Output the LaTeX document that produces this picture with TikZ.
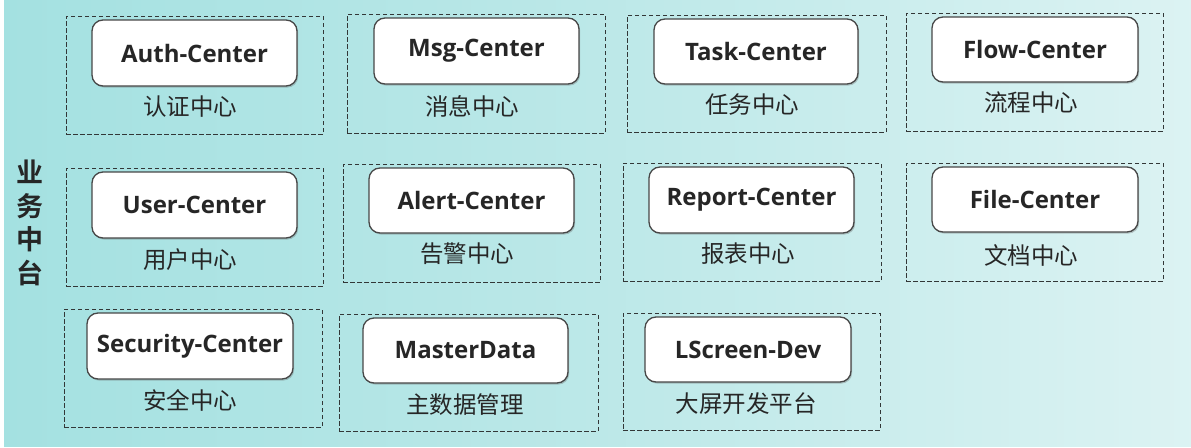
\documentclass[tikz,border=0pt]{standalone}
\usepackage{fontspec}
\usetikzlibrary{shadows}
\newfontfamily\cjk{Noto Sans CJK SC}
\newfontfamily\cjkb{Noto Sans CJK SC Bold}
\newfontfamily\enb{Open Sans Bold}
\definecolor{tealA}{RGB}{140,218,218}
\definecolor{tealB}{RGB}{188,232,232}
\definecolor{tealC}{RGB}{226,245,245}
\definecolor{txt}{RGB}{38,38,38}
\definecolor{dashc}{RGB}{50,55,55}
\pgfdeclarehorizontalshading{bgshade}{100bp}{color(0bp)=(tealA); color(50bp)=(tealB); color(80bp)=(tealC); color(97bp)=(white); color(100bp)=(white)}
\tikzset{
  grp/.style={draw=dashc, line width=1pt, dash pattern=on 4.5pt off 2.5pt, inner sep=0pt},
  svc/.style={draw=txt!85, line width=1.3pt, fill=white, rounded corners=11pt, inner sep=0pt,
    drop shadow={shadow xshift=1.2pt, shadow yshift=-1.6pt, opacity=0.35, fill=black!60},
    font=\enb\fontsize{24}{28}\selectfont, text=txt},
  lbl/.style={font=\cjk\fontsize{23.5}{26}\selectfont, text=txt, inner sep=0pt},
}
\newcommand{\mkgrp}[5]{\node[grp, minimum width={(#4-#2)*1pt}, minimum height={(#5-#3)*1pt}] (#1) at ({(#2+#4)/2},{(#3+#5)/2}) {};}
\newcommand{\mksvc}[6]{\node[svc, minimum width={(#4-#2)*1pt}, minimum height={(#5-#3)*1pt}] (#1) at ({(#2+#4)/2},{(#3+#5)/2}) {#6};}
\begin{document}
\begin{tikzpicture}[x=1pt,y=-1pt]
\useasboundingbox (0,0) rectangle (1191,447);
\shade[shading=bgshade] (4,0) rectangle (1191,446);
% Row 1
\mkgrp{gAuth}{66}{16}{323}{134}
\mksvc{Auth}{92}{20}{297}{86}{Auth-Center}
\node[lbl] (lAuth) at (190,107) {认证中心};
\mkgrp{gMsg}{347}{14}{605}{133}
\mksvc{Msg}{374}{18}{579}{84}{Msg-Center}
\node[lbl] (lMsg) at (472,106) {消息中心};
\mkgrp{gTask}{627}{15}{886}{132}
\mksvc{Task}{654}{19}{858}{84}{Task-Center}
\node[lbl] (lTask) at (752,105) {任务中心};
\mkgrp{gFlow}{906}{13}{1163}{131}
\mksvc{Flow}{932}{17}{1138}{82}{Flow-Center}
\node[lbl] (lFlow) at (1031,103) {流程中心};
% Row 2
\mkgrp{gUser}{66}{168}{323}{286}
\mksvc{User}{92}{172}{297}{238}{User-Center}
\node[lbl] (lUser) at (190,260) {用户中心};
\mkgrp{gAlert}{343}{164}{600}{282}
\mksvc{Alert}{369}{168}{574}{233}{Alert-Center}
\node[lbl] (lAlert) at (467,254) {告警中心};
\mkgrp{gReport}{623}{163}{881}{281}
\mksvc{Report}{649}{167}{854}{233}{Report-Center}
\node[lbl] (lReport) at (748,254) {报表中心};
\mkgrp{gFile}{906}{163}{1163}{281}
\mksvc{File}{932}{167}{1138}{232}{File-Center}
\node[lbl] (lFile) at (1031,255) {文档中心};
% Row 3
\mkgrp{gSec}{64}{309}{322}{427}
\mksvc{Sec}{87}{313}{293}{379}{Security-Center}
\node[lbl] (lSec) at (190,400) {安全中心};
\mkgrp{gMD}{339}{314}{598}{431}
\mksvc{MD}{363}{318}{568}{383}{MasterData}
\node[lbl] (lMD) at (465,405) {主数据管理};
\mkgrp{gLS}{623}{313}{880}{430}
\mksvc{LS}{645}{317}{851}{382}{LScreen-Dev}
\node[lbl] (lLS) at (746,404) {大屏开发平台};
% vertical title
\node[font=\cjkb\fontsize{27}{33.5}\selectfont, text=txt, align=center, inner sep=0pt] (title) at (30,223) {业\\务\\中\\台};
\end{tikzpicture}
\end{document}
